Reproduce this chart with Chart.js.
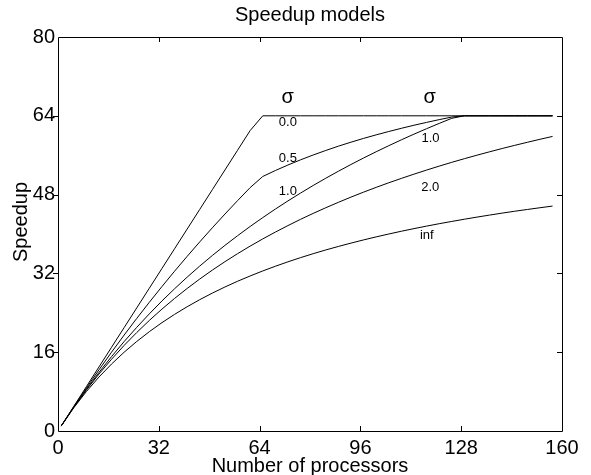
<!DOCTYPE html>
<html>
<head>
<meta charset="utf-8">
<script src="https://cdn.jsdelivr.net/npm/chart.js@4.4.1/dist/chart.umd.min.js"></script>
<style>
  html, body { margin: 0; padding: 0; background: #fff; }
  canvas { display: block; }
</style>
</head>
<body>
<canvas id="speedup" width="591" height="475"></canvas>
<script>
// Number of processors (sampled every 4)
const procs = [1, 5, 9, 13, 17, 21, 25, 29, 33, 37, 41, 45, 49, 53, 57, 61, 65, 69, 73, 77,
  81, 85, 89, 93, 97, 101, 105, 109, 113, 117, 121, 125, 129, 133, 137, 141, 145, 149, 153, 157];

// Speedup for each value of sigma (low and high variance 1.0 give the same curve)
const sigma0 = [1, 5, 9, 13, 17, 21, 25, 29, 33, 37, 41, 45, 49, 53, 57, 61, 64, 64, 64, 64,
  64, 64, 64, 64, 64, 64, 64, 64, 64, 64, 64, 64, 64, 64, 64, 64, 64, 64, 64, 64];
const sigma05 = [1, 4.92, 8.73, 12.42, 16.0, 19.48, 22.86, 26.14, 29.33, 32.44, 35.46, 38.4, 41.26, 44.05, 46.77, 49.42, 51.68, 52.89, 54.01, 55.06,
  56.04, 56.96, 57.83, 58.64, 59.41, 60.13, 60.81, 61.46, 62.08, 62.66, 63.22, 63.75, 64, 64, 64, 64, 64, 64, 64, 64];
const sigma1 = [1, 4.85, 8.47, 11.89, 15.11, 18.16, 21.05, 23.79, 26.4, 28.88, 31.24, 33.49, 35.64, 37.69, 39.65, 41.53, 43.33, 45.06, 46.72, 48.31,
  49.85, 51.32, 52.74, 54.11, 55.43, 56.7, 57.93, 59.12, 60.27, 61.38, 62.45, 63.49, 64, 64, 64, 64, 64, 64, 64, 64];
const sigma2 = [1, 4.8, 8.31, 11.56, 14.57, 17.38, 20.0, 22.45, 24.75, 26.91, 28.94, 30.86, 32.67, 34.38, 36.0, 37.54, 39.0, 40.39, 41.71, 42.98,
  44.18, 45.33, 46.43, 47.49, 48.5, 49.47, 50.4, 51.29, 52.15, 52.98, 53.78, 54.55, 55.29, 56.0, 56.69, 57.36, 58.0, 58.62, 59.23, 59.81];
const sigmaInf = [1, 4.71, 8.0, 10.95, 13.6, 16.0, 18.18, 20.17, 22.0, 23.68, 25.23, 26.67, 28.0, 29.24, 30.4, 31.48, 32.5, 33.45, 34.35, 35.2,
  36.0, 36.76, 37.47, 38.15, 38.8, 39.41, 40.0, 40.56, 41.09, 41.6, 42.09, 42.55, 43.0, 43.43, 43.84, 44.24, 44.62, 44.98, 45.33, 45.67];

const xTicks = [0, 32, 64, 96, 128, 160];
const yTicks = [0, 16, 32, 48, 64, 80];

// curve labels: text, x (procs), y (speedup)
const curveLabels = ['0.0', '0.5', '1.0', '1.0', '2.0', 'inf'];
const curveLabelX = [70.1, 70.1, 70.1, 115.4, 115.3, 114.9];
const curveLabelY = [62.0, 54.6, 47.9, 58.7, 48.8, 39.0];
const sigmaX = [72.9, 118.0];
const sigmaY = 66.6;

const FONT = "'Liberation Sans', Arial, Helvetica, sans-serif";

function toPoints(ys) {
    return procs.map((n, i) => ({ x: n, y: ys[i] }));
}

function lineSet(name, ys) {
    return {
        label: name,
        data: toPoints(ys),
        borderColor: '#000',
        borderWidth: 1,
        pointRadius: 0,
        tension: 0,
        fill: false
    };
}

// box round the plot + MATLAB style ticks
const frame = {
    id: 'frame',
    afterDraw(chart) {
        const ctx = chart.ctx;
        const a = chart.chartArea;
        const xs = chart.scales.x, ys = chart.scales.y;
        const tl = 5;
        ctx.save();
        ctx.strokeStyle = '#000';
        ctx.lineWidth = 1;
        ctx.beginPath();
        ctx.rect(Math.round(a.left) + 0.5, Math.round(a.top) + 0.5,
            Math.round(a.right - a.left), Math.round(a.bottom - a.top));
        ctx.stroke();
        ctx.beginPath();
        xTicks.slice(1, -1).forEach(v => {
            const px = Math.round(xs.getPixelForValue(v)) + 0.5;
            ctx.moveTo(px, a.bottom); ctx.lineTo(px, a.bottom - tl);
            ctx.moveTo(px, a.top); ctx.lineTo(px, a.top + tl);
        });
        yTicks.slice(1, -1).forEach(v => {
            const py = Math.round(ys.getPixelForValue(v)) + 0.5;
            ctx.moveTo(a.left - tl, py); ctx.lineTo(a.left, py);
            ctx.moveTo(a.right, py); ctx.lineTo(a.right - tl, py);
        });
        ctx.stroke();
        ctx.restore();
    }
};

// title, axis names and sigma annotations
const texts = {
    id: 'texts',
    afterDraw(chart) {
        const ctx = chart.ctx;
        const a = chart.chartArea;
        const xs = chart.scales.x, ys = chart.scales.y;
        ctx.save();
        ctx.fillStyle = '#000';
        ctx.textBaseline = 'alphabetic';

        ctx.font = '20px ' + FONT;
        ctx.textAlign = 'center';
        ctx.fillText('Speedup models', (a.left + a.right) / 2, 21);
        ctx.fillText('Number of processors', (a.left + a.right) / 2, 472);

        ctx.save();
        ctx.translate(27, 222);
        ctx.rotate(-Math.PI / 2);
        ctx.fillText('Speedup', 0, 0);
        ctx.restore();

        sigmaX.forEach(v => {
            ctx.fillText('σ', xs.getPixelForValue(v), ys.getPixelForValue(sigmaY));
        });

        ctx.font = '13px ' + FONT;
        ctx.textAlign = 'left';
        curveLabels.forEach((t, i) => {
            ctx.fillText(t, xs.getPixelForValue(curveLabelX[i]), ys.getPixelForValue(curveLabelY[i]));
        });
        ctx.restore();
    }
};

const tickFont = { family: FONT, size: 20 };

new Chart(document.getElementById('speedup'), {
    type: 'line',
    data: {
        datasets: [
            lineSet('sigma 0.0', sigma0),
            lineSet('sigma 0.5', sigma05),
            lineSet('sigma 1.0', sigma1),
            lineSet('sigma 2.0', sigma2),
            lineSet('sigma inf', sigmaInf)
        ]
    },
    options: {
        responsive: false,
        animation: false,
        devicePixelRatio: 1,
        layout: { padding: { top: 37, right: 29, left: 0, bottom: 0 } },
        plugins: {
            legend: { display: false },
            tooltip: { enabled: false },
            title: { display: false }
        },
        scales: {
            x: {
                type: 'linear',
                min: 0,
                max: 160,
                afterBuildTicks: s => { s.ticks = xTicks.map(v => ({ value: v })); },
                afterFit: s => { s.height = 44; },
                grid: { display: false, drawTicks: false },
                border: { display: false },
                ticks: { font: tickFont, color: '#000', padding: 5, autoSkip: false, maxRotation: 0 }
            },
            y: {
                type: 'linear',
                min: 0,
                max: 80,
                afterBuildTicks: s => { s.ticks = yTicks.map(v => ({ value: v })); },
                afterFit: s => { s.width = 58; },
                grid: { display: false, drawTicks: false },
                border: { display: false },
                ticks: { font: tickFont, color: '#000', padding: 3, autoSkip: false }
            }
        }
    },
    plugins: [frame, texts]
});
</script>
</body>
</html>
